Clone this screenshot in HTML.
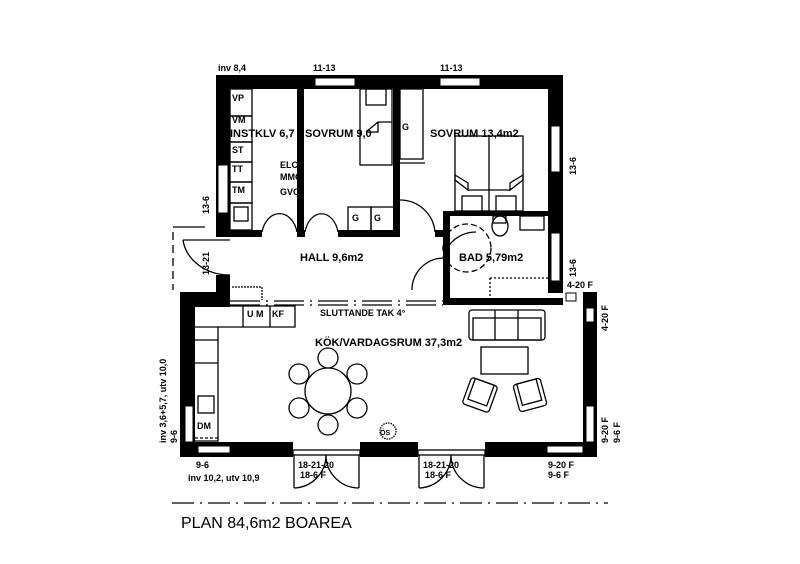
<!DOCTYPE html>
<html><head><meta charset="utf-8"><style>
html,body{margin:0;padding:0;background:#fff;}
svg{display:block;}
text{font-family:"Liberation Sans Narrow","Liberation Sans",sans-serif;fill:#000;font-weight:bold;}
</style></head><body>
<svg width="800" height="564" viewBox="0 0 800 564" xmlns="http://www.w3.org/2000/svg">
<g fill="#000">
<!-- upper block outer walls -->
<rect x="216" y="75" width="347" height="14"/>
<rect x="216" y="75" width="14" height="162"/>
<rect x="548" y="75" width="15" height="218"/>
<!-- hall left wall lower segment -->
<rect x="216" y="275" width="14" height="32"/>
<!-- interior walls -->
<rect x="297" y="89" width="7" height="148"/>
<rect x="393" y="89" width="7" height="148"/>
<rect x="230" y="230" width="32" height="7"/>
<rect x="304" y="230" width="1" height="7"/>
<rect x="338" y="230" width="55" height="7"/>
<rect x="435" y="230" width="15" height="7"/>
<!-- bath walls -->
<rect x="443" y="211" width="7" height="93"/>
<rect x="443" y="211" width="105" height="5"/>
<rect x="443" y="298" width="120" height="7"/>
<!-- lower block -->
<rect x="180" y="292" width="50" height="15"/>
<rect x="180" y="292" width="15" height="165"/>
<rect x="583" y="292" width="14" height="165"/>
<rect x="180" y="442" width="113" height="15"/>
<rect x="360" y="442" width="58" height="15"/>
<rect x="485" y="442" width="112" height="15"/>
</g>
<g fill="#fff" stroke="#000" stroke-width="1">
<!-- windows -->
<rect x="315" y="78" width="40" height="8"/>
<rect x="440" y="78" width="40" height="8"/>
<rect x="218" y="165" width="10" height="48"/>
<rect x="551" y="126" width="9" height="46"/>
<rect x="551" y="233" width="9" height="48"/>
<rect x="185" y="406" width="8" height="36"/>
<rect x="198" y="446" width="32" height="7"/>
<rect x="547" y="446" width="36" height="7"/>
<rect x="586" y="308" width="8" height="14"/>
<rect x="586" y="406" width="8" height="36"/>
<rect x="566" y="293" width="10" height="8"/>
</g>
<g fill="none" stroke="#000" stroke-width="1.3">
<!-- hall bottom beam lines -->
<line x1="230" y1="301" x2="443" y2="301" stroke-dasharray="30,6,2,6"/>
<line x1="230" y1="305" x2="443" y2="305" stroke-dasharray="30,6,2,6"/>
<line x1="232" y1="287" x2="262" y2="287" stroke-dasharray="2,1"/>
<line x1="262" y1="287" x2="262" y2="300" stroke-dasharray="2,1"/>
<!-- cabinets instklv -->
<rect x="230" y="89" width="22" height="27"/>
<rect x="230" y="116" width="22" height="26"/>
<rect x="230" y="142" width="22" height="20"/>
<rect x="230" y="162" width="22" height="20"/>
<rect x="230" y="182" width="22" height="21"/>
<rect x="230" y="203" width="22" height="27"/>
<rect x="234" y="207" width="14" height="14"/>
<!-- sovrum1 bed -->
<rect x="360" y="89" width="32" height="76"/>
<rect x="366" y="89" width="20" height="16"/>
<path d="M366 132 L378 122 L392 122 M378 122 V132 H366"/>
<rect x="400" y="89" width="23" height="70"/>
<line x1="400" y1="163" x2="425" y2="163"/>
<rect x="348" y="207" width="23" height="24"/>
<rect x="371" y="207" width="24" height="24"/>
<!-- double bed -->
<rect x="455" y="136" width="68" height="75"/>
<line x1="489" y1="136" x2="489" y2="211"/>
<path d="M455 175 L468 183 L468 190 L455 180 Z M523 175 L510 183 L510 190 L523 180 Z M468 190 H510"/>
<rect x="462" y="196" width="20" height="16"/>
<rect x="496" y="196" width="20" height="16"/>
<!-- bath fixtures -->
<rect x="520" y="216" width="24" height="14"/>
<ellipse cx="500" cy="226" rx="8" ry="10"/>
<rect x="493" y="216" width="13" height="7"/>
<line x1="490" y1="278" x2="548" y2="278" stroke-dasharray="2,2"/>
<line x1="490" y1="278" x2="490" y2="298" stroke-dasharray="2,2"/>
<circle cx="467" cy="248" r="24" stroke-dasharray="6,3"/>
<!-- doors -->
<path d="M262 232 A18 24 0 0 1 297 232"/>
<path d="M305 232 A17 24 0 0 1 338 232"/>
<path d="M400 200 A35 35 0 0 1 435 232"/>
<path d="M412 290 A32 32 0 0 1 443 258"/>
<path d="M443 258 A34 34 0 0 1 476 232"/>
<path d="M183 240 L230 240 M183 240 A47 40 0 0 0 230 275"/>
<line x1="173" y1="227" x2="205" y2="227"/>
<line x1="173" y1="232" x2="173" y2="290" stroke-dasharray="8,5"/>
<!-- bottom doors -->
<rect x="293" y="450" width="67" height="5"/>
<path d="M294 455 V488 M294 488 A33 33 0 0 0 326 455 M359 455 V488 M359 488 A33 33 0 0 1 326 455"/>
<rect x="418" y="450" width="67" height="5"/>
<path d="M419 455 V488 M419 488 A33 33 0 0 0 451 455 M484 455 V488 M484 488 A33 33 0 0 1 451 455"/>
<!-- kitchen -->
<path d="M195 306 H295 V327 H218 V441 H195"/>
<line x1="195" y1="327" x2="218" y2="327"/>
<line x1="195" y1="340" x2="218" y2="340"/>
<line x1="195" y1="363" x2="218" y2="363"/>
<rect x="198" y="396" width="16" height="17"/>
<line x1="243" y1="306" x2="243" y2="327"/>
<line x1="270" y1="306" x2="270" y2="327"/>
<line x1="195" y1="438" x2="218" y2="438" stroke-dasharray="3,2"/>
<!-- dining -->
<circle cx="328" cy="391" r="23"/>
<circle cx="328" cy="358" r="10"/>
<circle cx="328" cy="425" r="10"/>
<circle cx="299" cy="374" r="10"/>
<circle cx="357" cy="374" r="10"/>
<circle cx="299" cy="408" r="10"/>
<circle cx="357" cy="408" r="10"/>
<circle cx="388" cy="431" r="8" stroke-dasharray="1.5,1"/>
<!-- sofa -->
<rect x="469" y="310" width="76" height="30" rx="3"/>
<rect x="473" y="318" width="68" height="22"/>
<line x1="495" y1="310" x2="495" y2="340"/>
<line x1="518" y1="310" x2="518" y2="340"/>
<rect x="481" y="347" width="47" height="27"/>
<g transform="rotate(20 480 395)"><rect x="466" y="381" width="28" height="28" rx="3"/><rect x="470" y="381" width="20" height="22"/></g>
<g transform="rotate(-15 530 395)"><rect x="516" y="381" width="28" height="28" rx="3"/><rect x="520" y="381" width="20" height="22"/></g>
<line x1="172" y1="503" x2="608" y2="503" stroke-dasharray="22,6,2,6"/>
</g>
<g font-size="11">
<text x="230" y="137">INSTKLV 6,7</text>
<text x="305" y="137">SOVRUM 9,0</text>
<text x="430" y="137">SOVRUM 13,4m2</text>
<text x="300" y="261">HALL 9,6m2</text>
<text x="459" y="261">BAD 5,79m2</text>
<text x="315" y="346">KÖK/VARDAGSRUM 37,3m2</text>
</g>
<g font-size="9">
<text x="232" y="101">VP</text>
<text x="232" y="123">VM</text>
<text x="232" y="153">ST</text>
<text x="232" y="172">TT</text>
<text x="232" y="193">TM</text>
<text x="280" y="168">ELC</text>
<text x="280" y="180">MMC</text>
<text x="280" y="195">GVC</text>
<text x="402" y="130">G</text>
<text x="352" y="221">G</text>
<text x="374" y="221">G</text>
<text x="247" y="317">U M</text>
<text x="272" y="317">KF</text>
<text x="197" y="429">DM</text>
<text x="320" y="316">SLUTTANDE TAK 4°</text>
<text x="380" y="435" font-size="7">ÖS</text>
<text x="218" y="71">inv 8,4</text>
<text x="313" y="71">11-13</text>
<text x="440" y="71">11-13</text>
<text x="567" y="288">4-20 F</text>
<text x="196" y="468">9-6</text>
<text x="188" y="481">inv 10,2, utv 10,9</text>
<text x="298" y="468">18-21-20</text>
<text x="300" y="478">18-6 F</text>
<text x="423" y="468">18-21-20</text>
<text x="425" y="478">18-6 F</text>
<text x="548" y="468">9-20 F</text>
<text x="548" y="478">9-6 F</text>
<text transform="translate(209,214) rotate(-90)">13-6</text>
<text transform="translate(209,275) rotate(-90)">13-21</text>
<text transform="translate(576,175) rotate(-90)">13-6</text>
<text transform="translate(576,277) rotate(-90)">13-6</text>
<text transform="translate(608,331) rotate(-90)">4-20 F</text>
<text transform="translate(608,443) rotate(-90)">9-20 F</text>
<text transform="translate(620,443) rotate(-90)">9-6 F</text>
<text transform="translate(166,443) rotate(-90)">inv 3,6+5,7, utv 10,0</text>
<text transform="translate(177,443) rotate(-90)">9-6</text>
</g>
<text x="181" y="528" font-size="16" style="font-weight:normal">PLAN 84,6m2 BOAREA</text>
</svg>
</body></html>
